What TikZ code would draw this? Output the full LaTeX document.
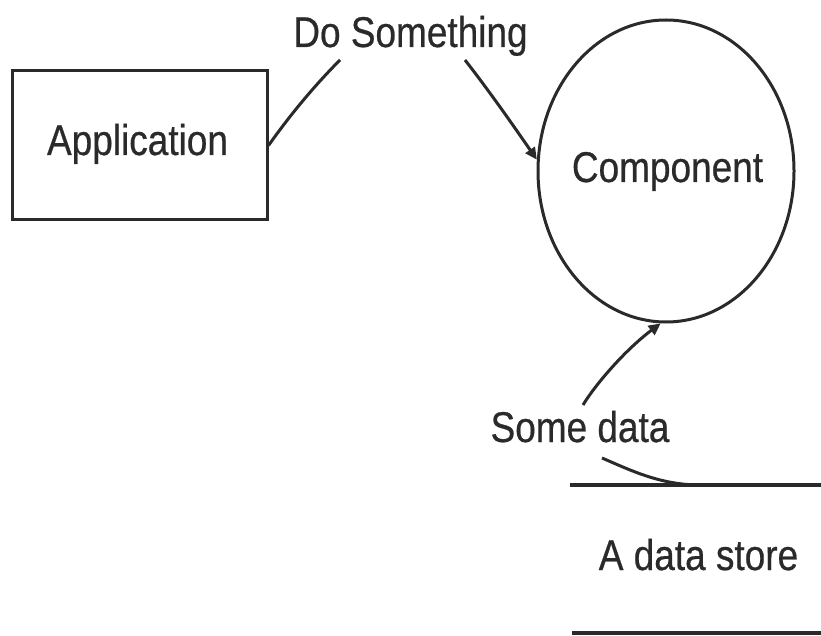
\documentclass[tikz,border=0pt]{standalone}
\usepackage{fontspec}
\setmainfont[FakeBold=0.6]{Liberation Sans}
\usetikzlibrary{shapes.geometric,arrows.meta}
\definecolor{ink}{HTML}{2a2a2a}
\tikzset{
  lbl/.style={anchor=base, inner sep=0pt, text=ink, font=\fontsize{43}{48}\selectfont},
  edge/.style={draw=ink, line width=3pt},
  flow/.style={edge, -{Triangle[length=12pt,width=11pt]}},
  storeline/.style={draw=ink, line width=3.6pt}
}
\newcommand{\narrow}[1]{\scalebox{0.86}[1]{#1}}
\begin{document}
\begin{tikzpicture}[x=1pt, y=-1pt]
  \useasboundingbox (0,0) rectangle (821,636);
  % process and external entity
  \node[draw=ink, line width=3pt, minimum width=255pt, minimum height=149pt, inner sep=0pt] (app) at (139.5,145.5) {};
  \node[lbl] (applabel) at (137.5,155) {\narrow{Application}};
  \node[ellipse, draw=ink, line width=3pt, minimum width=256pt, minimum height=302pt, inner sep=0pt] (comp) at (666,171) {};
  \node[lbl] (complabel) at (667.5,182) {\narrow{Component}};
  % flow labels
  \node[lbl] (dolabel) at (410.5,47) {\narrow{Do Something}};
  \node[lbl] (datalabel) at (580,442) {\narrow{Some data}};
  % data store
  \node[lbl] (store) at (698.5,570) {\narrow{A data store}};
  \coordinate (storetopL) at (570,485);
  \coordinate (storetopR) at (821,485);
  \coordinate (storebotL) at (572,633);
  \coordinate (storebotR) at (821,633);
  \draw[storeline] (storetopL) -- (storetopR);
  \draw[storeline] (storebotL) -- (storebotR);
  % connector ends next to the labels
  \coordinate (doL) at (340,60);
  \coordinate (doR) at (465,60);
  \coordinate (dataT) at (583,405);
  \coordinate (dataB) at (602,458);
  \coordinate (storejoin) at (700,485);
  % flows
  \draw[edge] (app.east) .. controls (290,115) and (315,85) .. (doL);
  \draw[flow] (doR) .. controls (490,92) and (515,128) .. (comp.175);
  \draw[flow] (dataT) .. controls (595,385) and (625,350) .. (comp.268);
  \draw[edge] (dataB) .. controls (630,470) and (660,485) .. (storejoin);
\end{tikzpicture}
\end{document}
